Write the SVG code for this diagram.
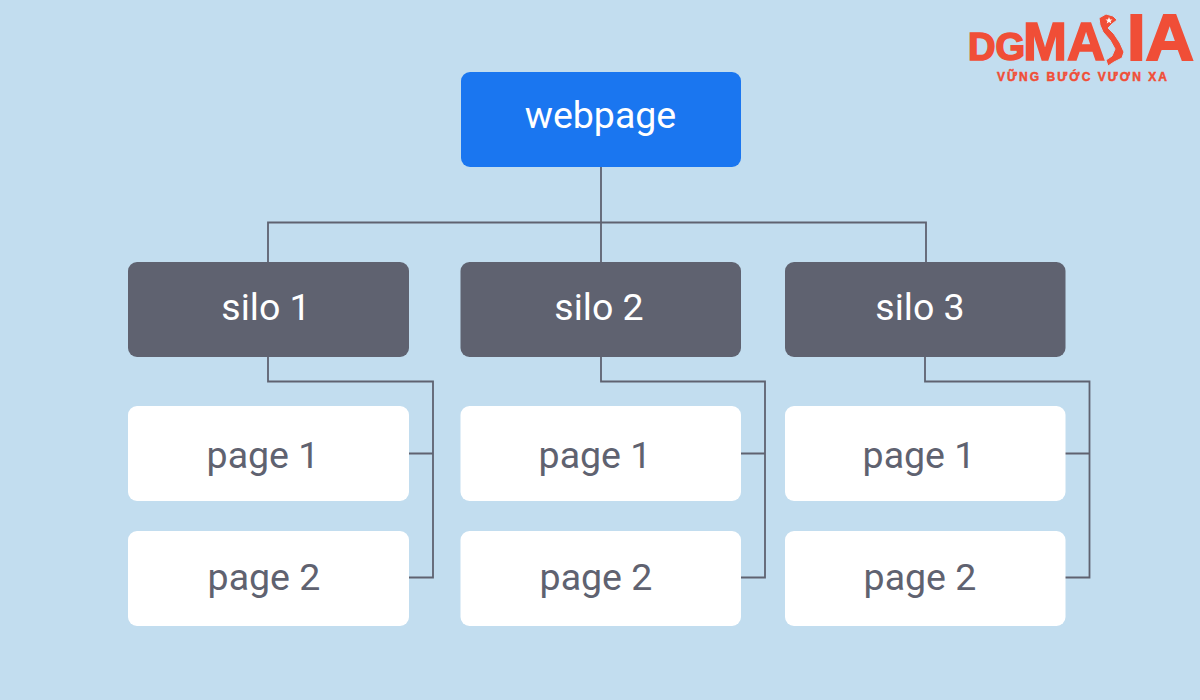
<svg xmlns="http://www.w3.org/2000/svg" width="1200" height="700" viewBox="0 0 1200 700">
<style>
.n{font-family:Roboto,"Liberation Sans",sans-serif;font-size:37.500px;text-anchor:middle}
.w{fill:#fff}.g{fill:#5f6270}
.c{fill:none;stroke:#5f6270;stroke-width:1.8}
.l{font-family:"Liberation Sans",Arial,sans-serif;font-weight:700;fill:#f04e37;stroke:#f04e37}
</style>
<rect width="1200" height="700" fill="#c2ddef"/>
<g id="connectors" class="c">
<path d="M601 167V262M268 262V222.500H926V262"/>
<path d="M268 357V381.500H433V577.500H409M409 453.500H433"/>
<path d="M601 357V381.500H765V577.500H741M741 453.500H765"/>
<path d="M925 357V381.500H1089.500V577.500H1065M1065 453.500H1089.500"/>
</g>
<g id="webpage"><rect x="461" y="72" width="280" height="95" rx="9" fill="#1a76f0"/><text class="n w" x="600.500" y="128">webpage</text></g>
<g id="silo1"><rect x="128" y="262" width="281" height="95" rx="9" class="g"/><text class="n w" x="266" y="320">silo 1</text></g>
<g id="silo2"><rect x="460.500" y="262" width="280.500" height="95" rx="9" class="g"/><text class="n w" x="599" y="320">silo 2</text></g>
<g id="silo3"><rect x="785" y="262" width="280.500" height="95" rx="9" class="g"/><text class="n w" x="920" y="320">silo 3</text></g>
<g id="s1p1"><rect x="128" y="406" width="281" height="95" rx="9" fill="#fff"/><text class="n g" x="263" y="468">page 1</text></g>
<g id="s1p2"><rect x="128" y="531" width="281" height="95" rx="9" fill="#fff"/><text class="n g" x="264" y="590">page 2</text></g>
<g id="s2p1"><rect x="460.500" y="406" width="280.500" height="95" rx="9" fill="#fff"/><text class="n g" x="595" y="468">page 1</text></g>
<g id="s2p2"><rect x="460.500" y="531" width="280.500" height="95" rx="9" fill="#fff"/><text class="n g" x="596" y="590">page 2</text></g>
<g id="s3p1"><rect x="785" y="406" width="280.500" height="95" rx="9" fill="#fff"/><text class="n g" x="919" y="468">page 1</text></g>
<g id="s3p2"><rect x="785" y="531" width="280.500" height="95" rx="9" fill="#fff"/><text class="n g" x="920" y="590">page 2</text></g>
<g id="logo">
<text class="l" x="968" y="59.500" font-size="38" stroke-width="1.600" textLength="57" lengthAdjust="spacingAndGlyphs">DG</text>
<text class="l" x="1023" y="59.500" font-size="54" stroke-width="1.600" textLength="82" lengthAdjust="spacingAndGlyphs">MA</text>
<text class="l" x="1127" y="59.500" font-size="64" stroke-width="2" textLength="67" lengthAdjust="spacingAndGlyphs">IA</text>
<path fill="#f04e37" stroke="#c2ddef" stroke-width="1" d="M1099 18L1106 14L1113 16L1117 20L1112 24L1108 28L1114 34L1120 43L1124 52L1122 58L1114 62L1108 66L1106 60L1112 56L1115 49L1110 40L1103 32L1100 25Z"/>
<polygon fill="#fff" points="1109,17 1110,19.500 1112.500,19.500 1110.500,21 1111.300,23.500 1109,22 1106.700,23.500 1107.500,21 1105.500,19.500 1108,19.500"/>
<text class="l" x="997" y="81" font-size="12" stroke-width=".5" textLength="170">VỮNG BƯỚC VƯƠN XA</text>
</g>
</svg>
